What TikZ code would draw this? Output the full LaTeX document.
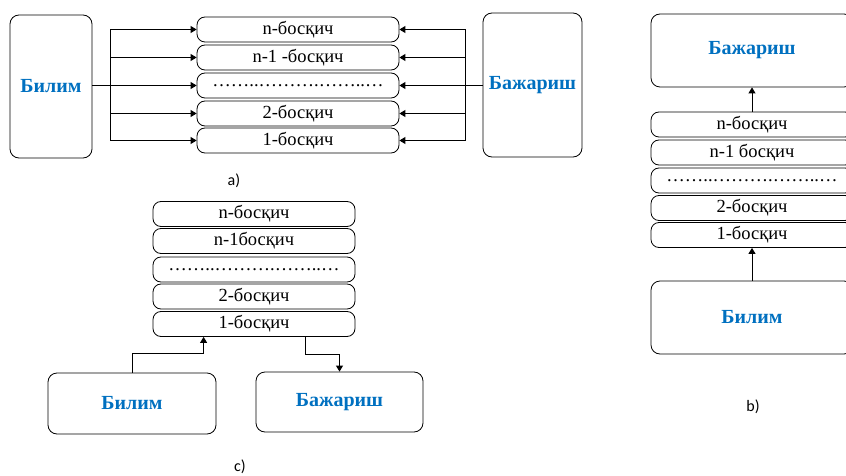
\documentclass[tikz,border=0pt]{standalone}
\usepackage{fontspec}
\setmainfont{Liberation Serif}
\newfontfamily\capfont{Carlito}
\usetikzlibrary{arrows.meta}
\usetikzlibrary{positioning}
\definecolor{billblue}{RGB}{0,112,192}
\newcommand{\stagefont}{\fontsize{18.5}{20}\selectfont}
\newcommand{\blockfont}{\fontsize{20}{22}\selectfont\bfseries}
\tikzset{
stage/.style={draw,line width=0.8pt,rounded corners=8pt,minimum width=202pt,minimum height=25pt,inner sep=0pt,font=\stagefont},
block/.style={draw,line width=0.8pt,rounded corners=9pt,inner sep=0pt,font=\blockfont,text=billblue},
link/.style={-{Triangle[length=6pt,width=7pt]},line width=1pt},
bus/.style={line width=1pt},
caption/.style={font=\capfont\fontsize{16}{18}\selectfont}
}

\begin{document}
\begin{tikzpicture}[x=1pt,y=-1pt]
\useasboundingbox (0,0) rectangle (846,476);

\node[block,minimum width=82pt,minimum height=143pt] (bilimA) at (51,86.5) {Билим};
\node[block,minimum width=99pt,minimum height=144pt] (bazhA) at (532.5,85) {Бажариш};
\node[stage] (sA1) at (298,29.5) {n-босқич};
\node[stage] (sA2) at (298,57.5) {n-1 -босқич};
\node[stage] (sA3) at (298,85.5) {……..……….……..…};
\node[stage] (sA4) at (298,113.5) {2-босқич};
\node[stage] (sA5) at (298,140.5) {1-босқич};
\coordinate (busL) at (110,85.5);
\coordinate (busR) at (465,85.5);
\draw[bus] (bilimA.east |- busL) -- (busL);
\draw[link] (busL) |- (sA1.west);
\draw[link] (busL) |- (sA2.west);
\draw[link] (busL) |- (sA3.west);
\draw[link] (busL) |- (sA4.west);
\draw[link] (busL) |- (sA5.west);
\draw[bus] (bazhA.west |- busR) -- (busR);
\draw[link] (busR) |- (sA1.east);
\draw[link] (busR) |- (sA2.east);
\draw[link] (busR) |- (sA3.east);
\draw[link] (busR) |- (sA4.east);
\draw[link] (busR) |- (sA5.east);
\node[caption] (capA) at (234,181) {a)};

\node[block,minimum width=202pt,minimum height=73pt] (bazhB) at (752,50.5) {Бажариш};
\node[stage] (sB1) at (752,124.5) {n-босқич};
\node[stage] (sB2) at (752,152.5) {n-1 босқич};
\node[stage] (sB3) at (752,180.5) {……..……….……..…};
\node[stage] (sB4) at (752,208) {2-босқич};
\node[stage] (sB5) at (752,235) {1-босқич};
\node[block,minimum width=202pt,minimum height=73pt] (bilimB) at (752,317.5) {Билим};
\draw[link] (sB1.north) -- (bazhB.south);
\draw[link] (bilimB.north) -- (sB5.south);
\node[caption] (capB) at (753,407) {b)};

\node[stage] (sC1) at (254,214) {n-босқич};
\node[stage] (sC2) at (254,241) {n-1босқич};
\node[stage] (sC3) at (254,269.5) {……..……….……..…};
\node[stage] (sC4) at (254,296.5) {2-босқич};
\node[stage] (sC5) at (254,324) {1-босқич};
\node[block,minimum width=168pt,minimum height=61pt] (bilimC) at (132,403.5) {Билим};
\node[block,minimum width=167pt,minimum height=60pt] (bazhC) at (339.5,402) {Бажариш};
\draw[link] (bilimC.north) -- ++(0,-19) -| ([xshift=51pt]sC5.south west);
\draw[link] ([xshift=-50pt]sC5.south east) -- ++(0,18) -| (bazhC.north);
\node[caption] (capC) at (240,467) {c)};

\end{tikzpicture}
\end{document}
